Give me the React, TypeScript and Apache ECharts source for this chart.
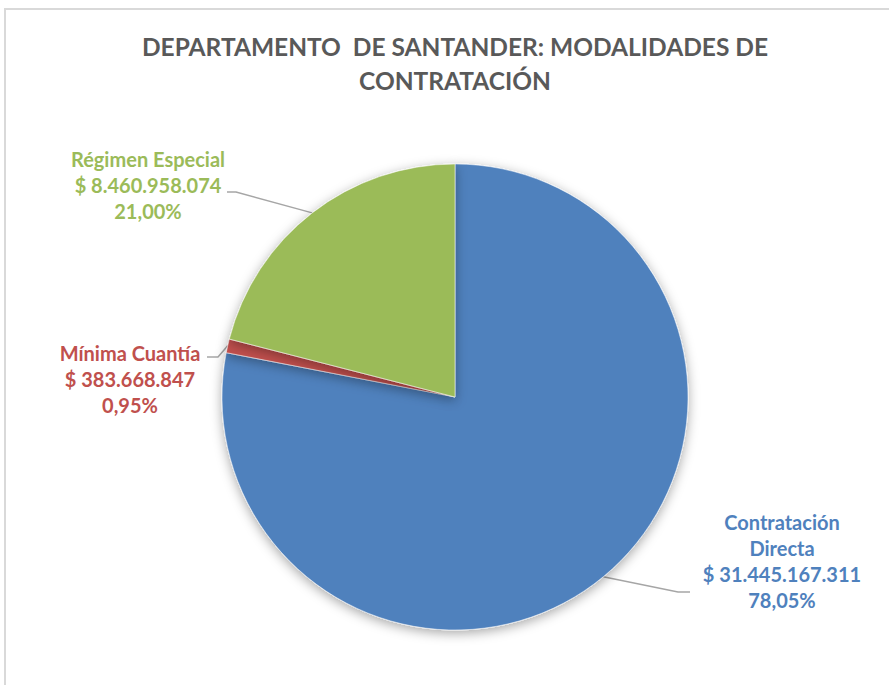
import React, { useEffect, useRef } from "react";
import * as echarts from "echarts";

const categories = ["Contratación\nDirecta", "Mínima Cuantía", "Régimen Especial"];
const values = [31445167311, 383668847, 8460958074];
const percentLabels = ["78,05%", "0,95%", "21,00%"];
const valueLabels = ["$ 31.445.167.311", "$ 383.668.847", "$ 8.460.958.074"];
const colors = ["#4F81BD", "#C0504D", "#9BBB59"];
const titleText = "DEPARTAMENTO  DE SANTANDER: MODALIDADES DE\nCONTRATACIÓN";

// label anchor layout (centre of text block) and elbow points
const labelPos = [
  { x: 782, y: 561, elbow: [678, 592], end: [690, 592] },
  { x: 130, y: 379, elbow: [218, 357], end: [207, 357] },
  { x: 148, y: 185, elbow: [236, 192], end: [227, 192] },
];

export default function App() {
  const ref = useRef<HTMLDivElement>(null);
  useEffect(() => {
    const chart = echarts.init(ref.current!, undefined, { renderer: "svg" });
    const FONT = "Lato, 'Open Sans', sans-serif";
    chart.setOption({
      animation: false,
      backgroundColor: "#ffffff",
      graphic: [
        {
          type: "rect",
          shape: { x: 5, y: 9, width: 1000, height: 1000 },
          style: { fill: "none", stroke: "#d9d9d9", lineWidth: 2 },
          silent: true,
        },
        {
          type: "text",
          x: 455,
          y: 29,
          style: {
            text: titleText,
            align: "center",
            verticalAlign: "top",
            fontFamily: FONT,
            fontSize: 24.5,
            fontWeight: "bold",
            fill: "#595959",
            lineHeight: 34,
          },
          silent: true,
        },
      ],
      series: [
        {
          type: "pie",
          center: [455, 397],
          radius: 233,
          startAngle: 90,
          clockwise: true,
          data: categories.map((c, i) => ({
            name: c,
            value: values[i],
            itemStyle: { color: colors[i] },
            label: { color: colors[i] },
          })),
          itemStyle: {
            borderColor: "rgba(255,255,255,0.5)",
            borderWidth: 1,
            shadowBlur: 12,
            shadowColor: "rgba(0,0,0,0.35)",
            shadowOffsetY: 3,
          },
          label: {
            show: true,
            position: "outside",
            fontFamily: FONT,
            fontSize: 20,
            fontWeight: "bold",
            lineHeight: 26,
            align: "center",
            formatter: (p: any) =>
              `${p.name}\n${valueLabels[p.dataIndex]}\n${percentLabels[p.dataIndex]}`,
          },
          labelLine: {
            show: true,
            lineStyle: { color: "#A6A6A6", width: 1.5 },
          },
          labelLayout: (params: any) => {
            const lp = labelPos[params.dataIndex];
            const start = params.labelLinePoints ? params.labelLinePoints[0] : lp.elbow;
            return {
              x: lp.x,
              y: lp.y,
              align: "center",
              verticalAlign: "middle",
              labelLinePoints: [start, lp.elbow, lp.end],
            };
          },
        },
      ],
    });
    return () => chart.dispose();
  }, []);
  return (
    <div
      ref={ref}
      style={{ position: "fixed", left: 0, top: 0, width: 889, height: 685 }}
    />
  );
}
